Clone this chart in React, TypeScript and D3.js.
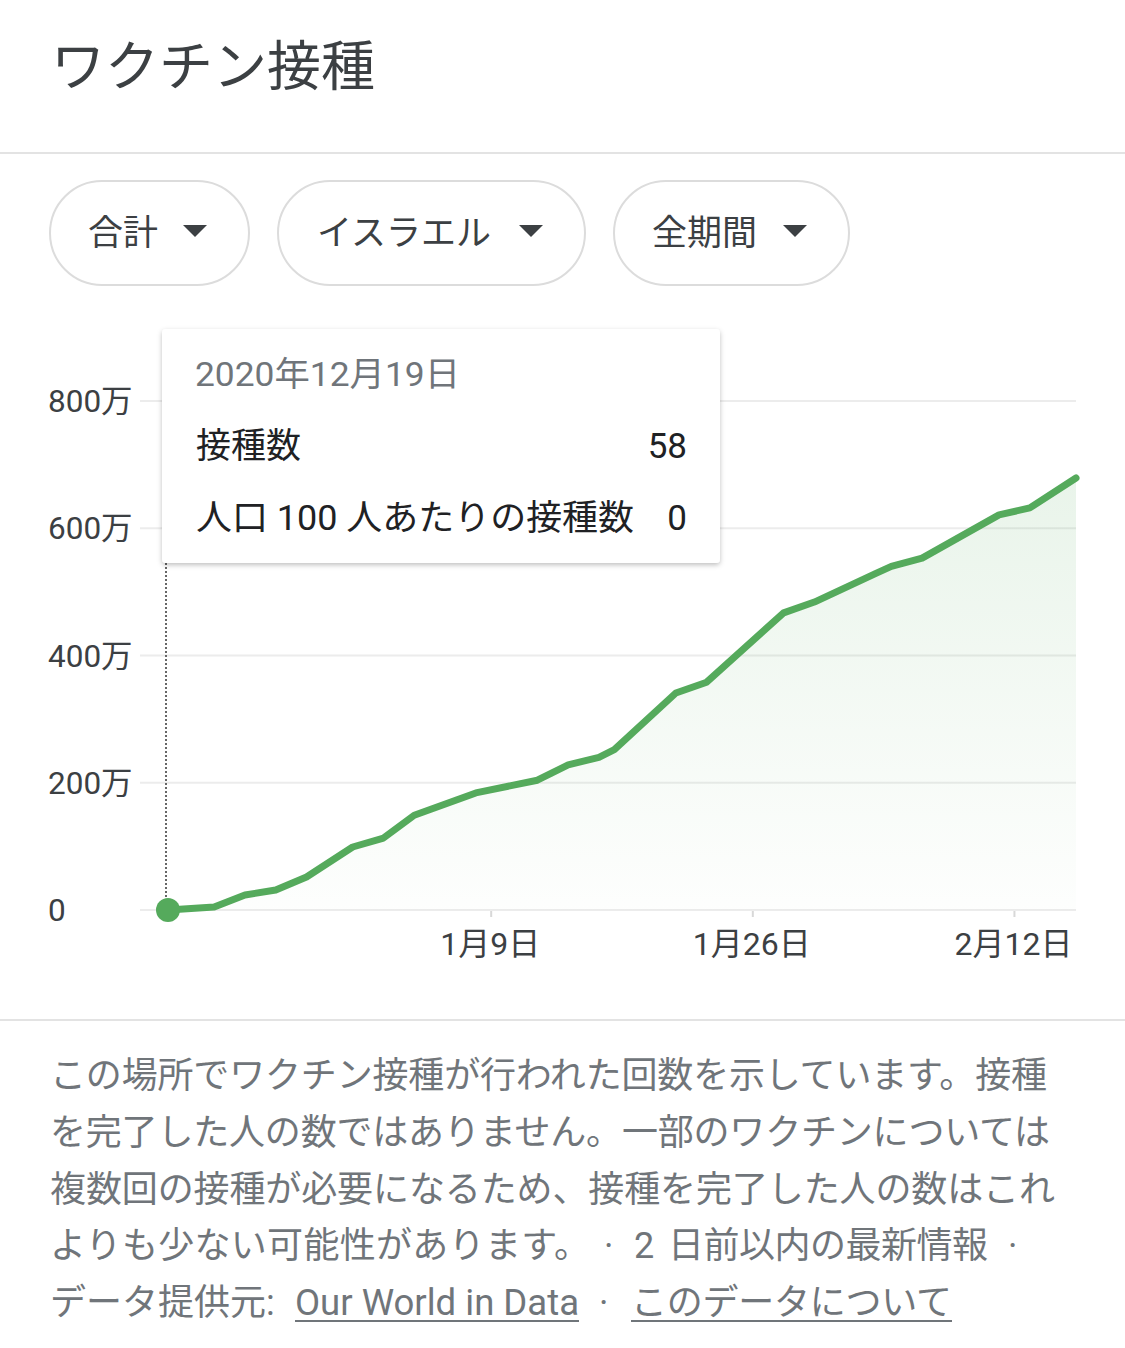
import React from "react";
import * as d3 from "d3";

const dates = [
  "2020-12-19", "2020-12-22", "2020-12-24", "2020-12-26", "2020-12-28",
  "2020-12-31", "2021-01-02", "2021-01-04", "2021-01-08", "2021-01-12",
  "2021-01-14", "2021-01-16", "2021-01-17", "2021-01-21", "2021-01-23",
  "2021-01-28", "2021-01-30", "2021-02-03", "2021-02-04", "2021-02-06",
  "2021-02-11", "2021-02-13", "2021-02-16",
];
const doses = [
  58, 47000, 236000, 314000, 518000,
  990000, 1131000, 1490000, 1840000, 2040000,
  2280000, 2400000, 2520000, 3410000, 3580000,
  4670000, 4840000, 5290000, 5400000, 5530000,
  6210000, 6320000, 6790000,
];
const yTicks = [0, 2000000, 4000000, 6000000, 8000000];
const yTickLabels = ["0", "200万", "400万", "600万", "800万"];
const xTickDates = ["2021-01-09", "2021-01-26", "2021-02-12"];
const xTickLabels = ["1月9日", "1月26日", "2月12日"];
const filters = ["合計", "イスラエル", "全期間"];
const tooltipDate = "2020年12月19日";
const tooltipRows = [
  ["接種数", "58"],
  ["人口 100 人あたりの接種数", "0"],
];

const FONT = "Roboto, 'Noto Sans CJK JP', sans-serif";
const GREEN = "#55aa5c";

export default function App() {
  const parse = d3.utcParse("%Y-%m-%d");
  const data = dates.map((d, i) => ({ date: parse(d) as Date, v: doses[i] }));
  const x = d3
    .scaleUtc()
    .domain([parse("2020-12-19") as Date, parse("2021-02-16") as Date])
    .range([168, 1076]);
  const y = d3.scaleLinear().domain([0, 8000000]).range([910, 401]);

  const line = d3
    .line<{ date: Date; v: number }>()
    .x((d) => x(d.date))
    .y((d) => y(d.v))
    .curve(d3.curveLinear);
  const area = d3
    .area<{ date: Date; v: number }>()
    .x((d) => x(d.date))
    .y0(y(0))
    .y1((d) => y(d.v))
    .curve(d3.curveLinear);

  const pills = [
    { x: 50, w: 199, tx: 88, tri: 195 },
    { x: 278, w: 307, tx: 317, tri: 531 },
    { x: 614, w: 235, tx: 652, tri: 795 },
  ];

  const first = data[0];

  return (
    <svg
      width={1125}
      height={1348}
      style={{ position: "absolute", left: 0, top: 0, background: "#fff" }}
      fontFamily={FONT}
    >
      <defs>
        <linearGradient id="areaGrad" gradientUnits="userSpaceOnUse" x1="0" y1={y(8000000)} x2="0" y2={y(0)}>
          <stop offset="0%" stopColor={GREEN} stopOpacity={0.15} />
          <stop offset="100%" stopColor={GREEN} stopOpacity={0.01} />
        </linearGradient>
        <filter id="shadow" x="-10%" y="-10%" width="120%" height="130%">
          <feDropShadow dx="0" dy="2" stdDeviation="2.5" floodColor="#000" floodOpacity="0.25" />
        </filter>
      </defs>
      <rect x={0} y={0} width={1125} height={1348} fill="#fff" />

      {/* title */}
      <text x={51} y={86} fontSize={54} fill="#3c4043" fontFamily={FONT}>
        ワクチン接種
      </text>
      <rect x={0} y={152} width={1125} height={2} fill="#e3e3e3" />

      {/* filter pills */}
      {pills.map((p, i) => (
        <g key={i}>
          <rect x={p.x} y={181} width={p.w} height={104} rx={52} fill="#fff" stroke="#dcdcdc" strokeWidth={2} />
          <text x={p.tx} y={245} fontSize={35} fill="#3c4043">
            {filters[i]}
          </text>
          <path d={`M${p.tri - 12},${225} L${p.tri + 12},${225} L${p.tri},${237} Z`} fill="#3c4043" />
        </g>
      ))}

      {/* grid lines */}
      {yTicks.map((t, i) => (
        <line key={i} x1={140} x2={1076} y1={y(t)} y2={y(t)} stroke="#ececec" strokeWidth={2} />
      ))}
      {yTicks.map((t, i) => (
        <text key={i} x={48} y={y(t) + 11} fontSize={31.5} fill="#3c4043">
          {yTickLabels[i]}
        </text>
      ))}

      {/* area + line */}
      <path d={area(data) || ""} fill="url(#areaGrad)" />
      <path d={line(data) || ""} fill="none" stroke={GREEN} strokeWidth={7} strokeLinejoin="round" strokeLinecap="round" />

      {/* x ticks */}
      {xTickDates.map((d, i) => {
        const xx = x(parse(d) as Date);
        return (
          <g key={i}>
            <line x1={xx} x2={xx} y1={911} y2={917} stroke="#d8d8d8" strokeWidth={2} />
            <text x={xx - 1} y={955} fontSize={32} textAnchor="middle" fill="#3c4043">
              {xTickLabels[i]}
            </text>
          </g>
        );
      })}

      {/* hover line + dot */}
      <line x1={x(first.date) - 2} x2={x(first.date) - 2} y1={563} y2={908} stroke="#666" strokeWidth={2} strokeDasharray="2,2" />
      <circle cx={x(first.date)} cy={y(first.v)} r={12} fill={GREEN} />

      {/* tooltip */}
      <rect x={162} y={329} width={558} height={234} rx={4} fill="#fff" filter="url(#shadow)" />
      <text x={195} y={386} fontSize={34} fill="#70757a" textLength={265} lengthAdjust="spacingAndGlyphs">
        {tooltipDate}
      </text>
      <text x={196} y={458} fontSize={35} fill="#202124">
        {tooltipRows[0][0]}
      </text>
      <text x={687} y={458} fontSize={35} fill="#202124" textAnchor="end">
        {tooltipRows[0][1]}
      </text>
      <text x={196} y={530} fontSize={35} fill="#202124" textLength={438} lengthAdjust="spacingAndGlyphs">
        {tooltipRows[1][0]}
      </text>
      <text x={687} y={530} fontSize={35} fill="#202124" textAnchor="end">
        {tooltipRows[1][1]}
      </text>

      {/* bottom */}
      <rect x={0} y={1019} width={1125} height={2} fill="#e3e3e3" />
      <g fontSize={36} fill="#70757a">
        <text x={50} y={1088} textLength={997} lengthAdjust="spacing">この場所でワクチン接種が行われた回数を示しています。接種</text>
        <text x={50} y={1145} textLength={1000} lengthAdjust="spacing">を完了した人の数ではありません。一部のワクチンについては</text>
        <text x={50} y={1202} textLength={1005} lengthAdjust="spacing">複数回の接種が必要になるため、接種を完了した人の数はこれ</text>
        <text x={50} y={1258} textLength={540} lengthAdjust="spacing">よりも少ない可能性があります。</text>
        <text x={604} y={1258}>·</text>
        <text x={634} y={1258}>2</text>
        <text x={668} y={1258} textLength={320} lengthAdjust="spacing">日前以内の最新情報</text>
        <text x={1008} y={1258}>·</text>
        <text x={50} y={1315}>データ提供元:</text>
        <text x={295} y={1315} textLength={284} lengthAdjust="spacingAndGlyphs">Our World in Data</text>
        <text x={599} y={1315}>·</text>
        <text x={631} y={1315} textLength={321} lengthAdjust="spacing">このデータについて</text>
      </g>
      <line x1={295} x2={579} y1={1321} y2={1321} stroke="#70757a" strokeWidth={2} />
      <line x1={631} x2={952} y1={1321} y2={1321} stroke="#70757a" strokeWidth={2} />
    </svg>
  );
}
